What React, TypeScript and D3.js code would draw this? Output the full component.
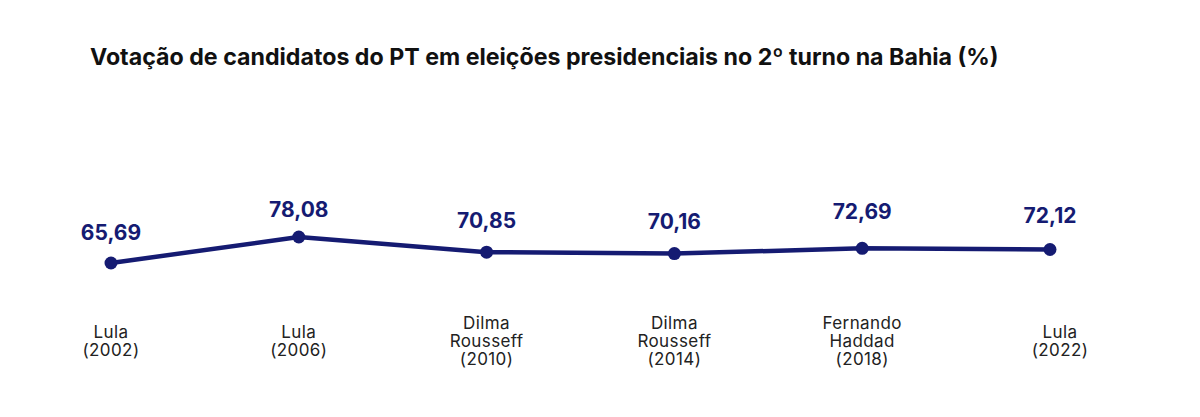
import React from "react";
import * as d3 from "d3";

const candidates: string[][] = [
  ["Lula", "(2002)"],
  ["Lula", "(2006)"],
  ["Dilma", "Rousseff", "(2010)"],
  ["Dilma", "Rousseff", "(2014)"],
  ["Fernando", "Haddad", "(2018)"],
  ["Lula", "(2022)"],
];
const years = ["2002", "2006", "2010", "2014", "2018", "2022"];
const values = [65.69, 78.08, 70.85, 70.16, 72.69, 72.12];

// layout: distance of each value label's baseline above its point
const labelDy = [23, 20, 24, 25, 29, 27];

const W = 1200;
const H = 417;
const NAVY = "#151b72";

export default function App() {
  const x = d3.scalePoint<string>().domain(years).range([111, 1050]);
  const y = d3.scaleLinear().domain([65.69, 78.08]).range([263, 237]);
  const line = d3
    .line<number>()
    .x((_, i) => x(years[i])!)
    .y((d) => y(d));
  const fmt = (v: number) => v.toFixed(2).replace(".", ",");
  return (
    <svg
      width={W}
      height={H}
      style={{ position: "absolute", left: 0, top: 0, background: "#fff" }}
      fontFamily="Inter, 'Noto Sans', sans-serif"
    >
      <rect width={W} height={H} fill="#fff" />
      <text x={90} y={65} fontSize={23.2} fontWeight={700} fill="#111">
        Votação de candidatos do PT em eleições presidenciais no 2º turno na Bahia (%)
      </text>
      <path d={line(values) ?? ""} fill="none" stroke={NAVY} strokeWidth={4.5} strokeLinejoin="round" />
      {values.map((v, i) => (
        <g key={i}>
          <circle cx={x(years[i])} cy={y(v)} r={6.5} fill={NAVY} />
          <text
            x={x(years[i])}
            y={y(v) - labelDy[i]}
            textAnchor="middle"
            fontSize={21}
            fontWeight={700}
            fill={NAVY}
          >
            {fmt(v)}
          </text>
        </g>
      ))}
      {candidates.map((lines, i) => {
        const lh = 18;
        const cx = x(years[i])! + (i === candidates.length - 1 ? 10 : 0);
        const top = 341 - ((lines.length - 1) * lh) / 2;
        return (
          <text key={i} x={cx} textAnchor="middle" fontSize={17} letterSpacing={0.4} fill="#222">
            {lines.map((l, j) => (
              <tspan key={j} x={cx} y={top + j * lh + 6}>
                {l}
              </tspan>
            ))}
          </text>
        );
      })}
    </svg>
  );
}
